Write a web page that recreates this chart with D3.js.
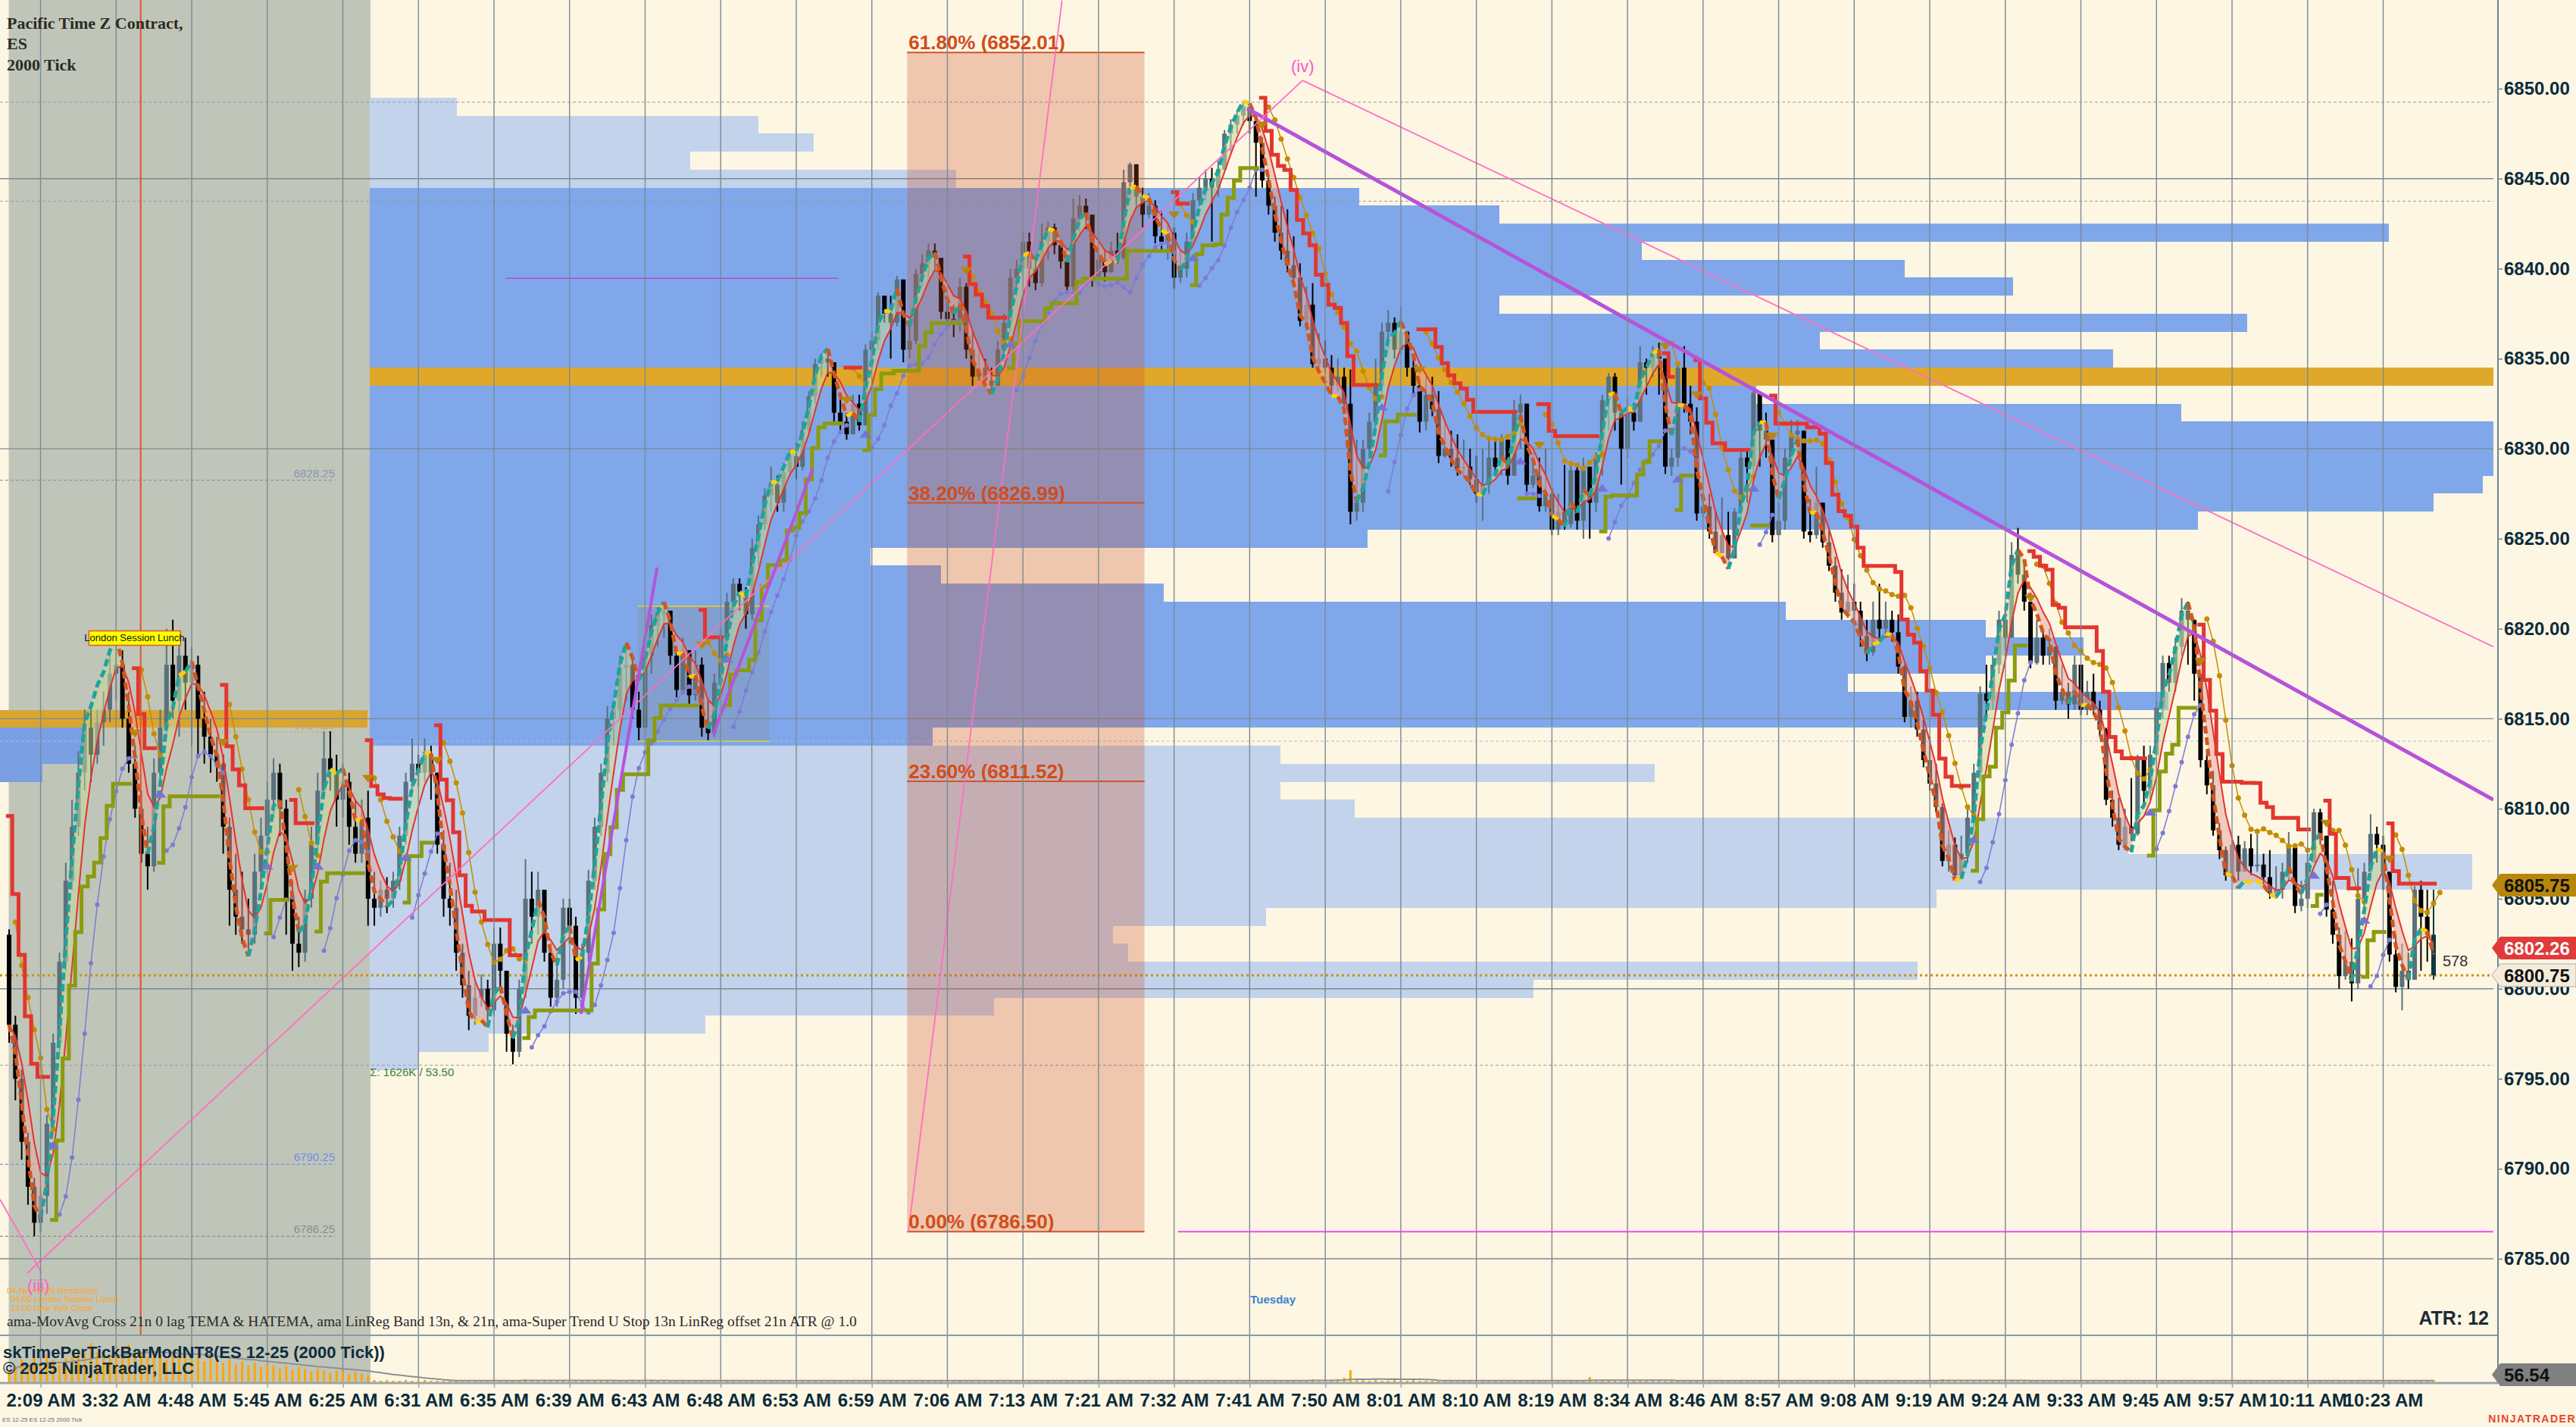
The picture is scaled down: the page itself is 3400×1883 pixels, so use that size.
<!DOCTYPE html>
<html><head><meta charset="utf-8">
<script src="https://cdn.jsdelivr.net/npm/d3@7"></script>
<style>html,body{margin:0;padding:0;background:#fdf6e3;}svg{display:block}</style>
</head><body>
<svg id="c" width="3400" height="1883"></svg>
<script>
// ---------------- DATA ----------------
const timeLabels = ["2:09 AM","3:32 AM","4:48 AM","5:45 AM","6:25 AM","6:31 AM","6:35 AM","6:39 AM","6:43 AM","6:48 AM","6:53 AM","6:59 AM","7:06 AM","7:13 AM","7:21 AM","7:32 AM","7:41 AM","7:50 AM","8:01 AM","8:10 AM","8:19 AM","8:34 AM","8:46 AM","8:57 AM","9:08 AM","9:19 AM","9:24 AM","9:33 AM","9:45 AM","9:57 AM","10:11 AM","10:23 AM"];
const labelFirstBar = 5, labelEveryBars = 12;
const firstOpen = 6803.0;
const closes = [
6798.0,6795.0,6791.5,6789.0,6787.0,6788.5,6792.5,6797.0,6801.5,6806.0,
6809.0,6812.0,6814.5,6813.0,6814.8,6815.5,6817.5,6818.0,6815.0,6812.5,
6810.0,6807.5,6806.8,6812.0,6814.5,6818.0,6816.0,6818.5,6817.0,6818.0,
6815.0,6814.0,6813.0,6812.5,6809.0,6805.5,6804.0,6803.3,6803.0,6806.5,
6808.5,6810.5,6812.0,6810.0,6805.0,6802.5,6802.0,6805.0,6808.0,6811.0,
6812.8,6812.0,6810.5,6811.5,6809.0,6807.5,6809.5,6805.0,6804.5,6805.5,
6805.0,6806.0,6808.5,6811.5,6812.5,6812.0,6813.0,6812.0,6808.0,6805.0,
6804.5,6802.0,6800.2,6798.5,6799.5,6800.0,6798.8,6802.5,6801.0,6797.5,
6796.5,6800.0,6805.0,6804.0,6805.5,6802.0,6799.5,6800.5,6804.5,6803.5,
6799.5,6802.0,6806.0,6809.0,6812.0,6815.0,6815.5,6817.8,6818.0,6815.5,
6814.5,6818.5,6820.2,6820.8,6821.0,6818.5,6816.6,6818.8,6816.3,6818.0,
6814.5,6814.2,6817.0,6819.5,6821.5,6822.5,6822.0,6820.8,6824.5,6825.8,
6827.4,6828.0,6827.0,6828.7,6829.6,6829.0,6831.0,6832.9,6834.7,6835.0,
6834.8,6832.0,6831.5,6830.8,6832.5,6831.3,6835.5,6836.0,6838.5,6837.5,
6837.0,6839.4,6835.5,6836.0,6839.7,6840.3,6841.0,6840.6,6837.6,6837.2,
6837.0,6839.0,6835.5,6834.0,6834.5,6833.8,6833.5,6835.5,6837.0,6839.5,
6840.0,6841.5,6840.0,6839.2,6841.5,6842.3,6841.3,6840.4,6839.0,6842.8,
6843.5,6843.0,6839.5,6840.5,6839.8,6841.0,6840.6,6844.8,6845.8,6844.0,
6843.0,6843.5,6841.8,6841.5,6842.0,6839.5,6840.0,6841.5,6843.8,6844.5,
6845.0,6844.5,6845.5,6847.5,6848.0,6848.5,6849.0,6848.2,6847.0,6844.9,
6843.5,6842.0,6841.0,6840.2,6839.5,6837.1,6838.0,6834.7,6835.0,6834.5,
6833.5,6834.0,6832.5,6826.5,6827.0,6830.0,6831.5,6833.5,6836.5,6837.0,
6835.5,6836.5,6834.5,6833.5,6831.5,6833.0,6832.2,6829.6,6830.0,6829.5,
6828.9,6829.0,6828.3,6827.5,6828.0,6829.5,6829.0,6830.5,6828.5,6832.0,
6832.5,6828.0,6828.5,6826.8,6827.5,6825.5,6826.5,6825.8,6828.8,6826.0,
6829.0,6827.0,6829.5,6832.7,6834.0,6832.0,6830.0,6832.0,6831.5,6834.8,
6834.5,6835.3,6835.0,6829.0,6829.5,6834.5,6832.5,6831.5,6826.4,6826.8,
6825.4,6824.2,6825.2,6823.9,6826.5,6829.5,6829.0,6833.1,6831.0,6830.5,
6825.2,6826.0,6829.5,6830.8,6831.0,6825.4,6825.2,6827.0,6824.8,6823.5,
6822.0,6820.9,6821.5,6821.0,6819.6,6818.7,6820.5,6820.0,6820.5,6819.8,
6817.9,6815.1,6816.0,6814.4,6812.7,6811.4,6810.1,6807.1,6808.0,6806.3,
6807.5,6809.5,6812.0,6816.4,6816.0,6818.0,6820.5,6819.5,6824.1,6823.0,
6821.5,6818.1,6819.5,6818.5,6819.0,6816.0,6816.5,6815.8,6818.0,6815.5,
6816.5,6815.5,6814.4,6810.5,6809.5,6808.0,6809.0,6808.6,6812.7,6811.0,
6813.0,6815.6,6818.1,6817.0,6819.0,6821.0,6820.5,6817.5,6812.7,6811.3,
6808.8,6807.7,6806.3,6808.0,6806.5,6807.8,6806.8,6806.9,6806.2,6805.3,
6805.5,6806.5,6808.0,6804.6,6805.0,6807.0,6809.8,6808.5,6804.4,6803.0,
6800.7,6801.5,6800.3,6805.0,6806.5,6808.6,6808.0,6806.5,6801.9,6800.1,
6801.0,6800.5,6805.5,6804.0,6803.0,6800.75];
const highs = [
6803.3,6798.5,6795.5,6792.0,6789.5,6789.0,6793.0,6797.5,6802.0,6807.0,
6810.5,6813.2,6815.5,6815.8,6815.5,6816.5,6818.5,6819.3,6818.8,6816.5,
6813.5,6811.0,6809.0,6812.8,6815.5,6820.0,6820.5,6819.5,6819.5,6819.0,
6818.5,6816.5,6815.0,6814.0,6813.0,6809.5,6807.5,6806.5,6805.0,6807.5,
6809.5,6811.5,6812.8,6812.5,6810.5,6806.0,6804.0,6805.5,6809.0,6812.0,
6814.3,6814.3,6813.0,6812.5,6812.0,6810.5,6810.5,6811.0,6806.5,6806.0,
6806.2,6806.5,6809.0,6812.0,6813.9,6813.0,6813.9,6813.5,6812.0,6808.8,
6807.0,6805.5,6802.5,6801.0,6800.5,6800.8,6800.5,6803.4,6803.4,6801.0,
6798.0,6800.5,6807.2,6806.5,6806.5,6805.5,6802.5,6802.0,6805.0,6805.0,
6804.0,6802.5,6806.6,6809.5,6812.5,6815.7,6816.0,6818.5,6818.8,6818.5,
6816.5,6818.8,6820.8,6821.2,6821.5,6821.0,6819.0,6819.5,6818.5,6818.8,
6818.4,6816.0,6817.5,6820.0,6822.0,6822.8,6822.8,6822.3,6825.0,6826.3,
6827.8,6829.0,6828.5,6829.2,6830.0,6830.3,6831.5,6833.2,6835.0,6835.3,
6835.3,6834.8,6833.0,6832.0,6833.0,6833.0,6835.8,6836.5,6838.7,6838.5,
6838.5,6839.6,6839.0,6837.0,6840.0,6840.8,6841.4,6841.4,6840.6,6838.5,
6838.0,6839.5,6839.2,6836.5,6835.5,6835.0,6834.5,6836.0,6837.5,6840.0,
6840.5,6842.0,6842.0,6840.5,6842.5,6842.6,6842.5,6841.5,6840.5,6843.9,
6844.1,6843.9,6843.0,6841.5,6841.0,6841.5,6842.0,6845.5,6845.9,6845.5,
6844.5,6844.2,6843.8,6843.2,6842.5,6842.3,6841.0,6842.0,6844.2,6845.1,
6845.5,6845.6,6846.0,6847.7,6848.3,6848.8,6849.3,6849.0,6848.5,6847.3,
6845.2,6844.0,6843.5,6843.3,6841.8,6840.3,6839.0,6839.2,6836.4,6836.0,
6835.2,6835.0,6834.5,6834.4,6830.5,6830.5,6832.0,6835.0,6837.0,6837.7,
6837.3,6837.9,6836.5,6835.0,6833.7,6834.0,6834.0,6833.2,6831.5,6831.0,
6830.8,6830.5,6830.0,6829.6,6830.0,6830.5,6830.5,6830.8,6830.5,6832.7,
6833.0,6832.5,6829.8,6829.5,6830.0,6827.8,6827.5,6829.1,6829.1,6829.0,
6829.5,6829.0,6829.8,6833.0,6834.2,6834.2,6832.0,6832.8,6832.5,6835.7,
6835.0,6835.7,6835.9,6835.0,6830.0,6834.8,6835.7,6833.5,6832.3,6828.5,
6827.5,6826.5,6827.3,6826.5,6826.7,6829.8,6830.0,6833.2,6832.8,6832.0,
6830.0,6827.0,6830.0,6831.6,6831.6,6830.0,6827.2,6829.0,6827.0,6825.5,
6824.0,6823.3,6823.0,6822.5,6821.5,6820.5,6821.5,6822.5,6821.5,6821.0,
6820.8,6818.0,6816.8,6816.5,6815.0,6814.0,6812.5,6810.3,6808.8,6808.4,
6808.5,6810.0,6812.5,6816.8,6818.0,6818.5,6821.0,6821.0,6824.8,6825.6,
6823.5,6821.0,6820.5,6820.0,6820.0,6818.3,6818.0,6817.0,6818.5,6818.0,
6817.1,6817.5,6816.0,6814.5,6811.0,6810.6,6810.0,6811.7,6813.0,6813.5,
6813.5,6816.0,6818.5,6818.5,6819.5,6821.7,6821.5,6820.5,6817.5,6813.3,
6812.1,6809.2,6807.9,6808.5,6808.5,6808.2,6808.6,6808.6,6807.5,6807.7,
6806.8,6807.0,6808.7,6808.0,6806.0,6807.5,6810.0,6810.0,6808.5,6806.0,
6803.4,6803.2,6802.8,6806.7,6807.0,6809.7,6809.0,6808.5,6806.5,6803.0,
6802.5,6802.0,6805.7,6806.0,6805.5,6805.5];
const lows = [
6797.0,6793.8,6790.5,6788.0,6786.25,6786.5,6787.5,6792.0,6796.5,6801.0,
6805.5,6808.5,6811.0,6811.5,6812.5,6813.5,6814.8,6816.0,6814.5,6812.0,
6809.5,6807.0,6805.5,6806.5,6811.5,6814.0,6815.0,6814.0,6815.5,6813.5,
6813.0,6812.5,6812.0,6811.5,6807.5,6803.5,6803.0,6802.5,6802.2,6802.5,
6805.5,6807.5,6809.5,6808.5,6803.0,6801.0,6801.2,6801.5,6804.5,6807.5,
6810.5,6811.0,6809.0,6809.5,6808.0,6807.0,6807.0,6803.5,6803.5,6804.0,
6804.2,6804.5,6805.5,6808.0,6811.0,6811.2,6811.5,6810.5,6807.5,6804.0,
6803.5,6801.0,6799.5,6797.7,6798.0,6799.0,6798.0,6798.5,6800.0,6796.5,
6795.8,6796.2,6799.5,6802.5,6803.0,6801.5,6799.0,6799.0,6800.0,6802.5,
6798.6,6799.0,6801.5,6805.5,6808.5,6811.5,6813.5,6815.0,6816.0,6815.0,
6813.8,6814.5,6817.5,6819.0,6819.5,6818.0,6816.2,6816.5,6815.8,6816.0,
6814.0,6813.8,6814.0,6816.5,6819.0,6821.0,6821.0,6820.0,6820.5,6823.5,
6825.5,6826.5,6826.5,6826.5,6828.5,6828.3,6828.8,6830.8,6832.5,6834.0,
6834.0,6831.5,6831.0,6830.5,6830.8,6831.0,6831.5,6834.5,6835.5,6837.0,
6835.0,6836.8,6834.8,6835.0,6835.8,6839.0,6839.5,6840.0,6837.2,6836.8,
6836.2,6836.5,6835.0,6833.5,6833.8,6833.5,6833.2,6833.5,6835.0,6836.5,
6838.5,6839.5,6839.0,6838.8,6839.0,6840.5,6840.8,6840.0,6838.8,6838.8,
6842.0,6842.2,6839.0,6839.2,6839.3,6839.8,6840.3,6840.5,6843.8,6843.5,
6842.3,6842.8,6841.4,6841.0,6840.5,6838.9,6839.2,6839.5,6841.3,6843.5,
6843.8,6841.5,6844.0,6845.5,6846.5,6847.5,6848.0,6847.5,6844.0,6844.5,
6843.0,6841.5,6840.5,6839.8,6839.0,6836.8,6836.9,6834.5,6834.5,6834.2,
6833.0,6833.2,6832.0,6825.8,6826.0,6826.5,6829.5,6831.0,6833.0,6835.5,
6835.0,6835.3,6834.0,6833.0,6830.9,6831.0,6831.8,6829.2,6829.5,6829.0,
6828.5,6828.5,6828.0,6827.0,6826.0,6827.5,6828.5,6828.5,6828.0,6828.5,
6830.0,6827.5,6827.8,6826.5,6826.5,6825.2,6825.2,6825.5,6825.6,6825.5,
6825.0,6825.0,6826.5,6828.5,6831.0,6831.0,6828.0,6829.5,6831.0,6831.5,
6833.0,6834.0,6833.0,6828.6,6828.5,6829.0,6832.0,6830.8,6826.0,6826.2,
6825.0,6824.2,6824.8,6823.8,6823.9,6826.0,6827.0,6828.5,6829.0,6829.5,
6824.8,6825.5,6825.5,6829.0,6829.5,6825.0,6824.8,6825.0,6824.5,6823.2,
6821.5,6820.5,6820.6,6820.2,6819.0,6818.2,6818.5,6819.5,6819.5,6819.3,
6817.5,6814.8,6814.5,6814.0,6812.3,6811.0,6809.8,6806.8,6806.5,6806.1,
6806.2,6807.0,6809.0,6811.5,6815.0,6815.5,6817.5,6818.8,6819.5,6822.5,
6821.0,6817.8,6818.0,6818.0,6818.0,6815.5,6815.8,6815.0,6815.5,6815.2,
6815.2,6815.2,6814.0,6810.2,6809.0,6807.7,6807.7,6808.2,6808.5,6810.0,
6810.5,6813.0,6815.0,6816.5,6816.5,6818.5,6818.0,6816.0,6812.3,6810.8,
6808.5,6807.2,6806.0,6806.0,6806.0,6806.5,6806.3,6806.5,6805.8,6805.0,
6805.0,6805.0,6806.0,6804.2,6804.3,6804.5,6807.0,6808.0,6804.0,6802.5,
6800.0,6800.5,6799.3,6800.0,6804.5,6806.0,6807.0,6805.5,6801.5,6799.8,
6798.8,6800.0,6800.5,6801.0,6801.5,6800.5];
const tickVolume = [
14,22,30,20,32,26,36,30,24,32,34,42,38,52,40,36,32,44,38,50,42,38,34,40,36,30,38,32,36,30,34,28,32,30,26,30,24,28,22,26,20,24,22,18,22,16,20,18,14,18,16,12,16,14,10,14,12,9,
3,2,3,2,2,3,2,2,3,2,2,2,3,2,2,2,3,3,2,2,3,2,2,3,4,3,2,2,3,2,2,3,2,3,3,2,2,3,2,2,2,3,
2,3,2,2,3,2,2,2,3,2,2,3,2,2,2,3,2,2,3,2,2,2,2,3,2,2,3,2,2,2,3,2,2,2,3,2,2,2,2,3,2,2,2,3,2,2,2,2,3,2,
2,2,3,2,2,2,3,2,2,2,2,3,2,2,2,2,3,2,2,2,3,2,2,2,2,3,2,2,3,2,2,2,2,3,2,2,2,3,2,2,2,2,3,2,2,2,3,2,2,3,
2,3,2,2,2,3,2,4,3,2,3,4,6,16,5,3,2,3,2,2,3,2,2,3,2,2,2,3,2,2,3,2,2,2,3,2,2,3,2,2,2,3,2,2,2,3,2,2,3,2,
2,7,3,2,2,3,2,2,3,2,2,2,3,2,2,3,2,2,2,3,2,2,3,2,2,2,3,2,2,3,2,2,2,3,2,2,2,3,2,2,3,2,2,2,3,2,2,3,2,2,
3,2,2,3,2,2,3,4,3,2,2,3,2,2,3,2,2,2,3,2,2,3,2,2,2,3,2,2,3,2,2,2,3,2,2,3,2,2,3,2,2,2,3,2,2,3,2,2,2,3,
2,2,3,2,2,3,2,2,2,3,2,2,3,2,2,2,3,2,2,3,2,2,3,2,2,2,3,2,2,3,2,2,3,2,2,3];
const profilePrices  = [6849,6848,6847,6846,6845,6844,6843,6842,6841,6840,6839,6838,6837,6836,6835,6834,6833,6832,6831,6830,6829,6828,6827,6826,6825,6824,6823,6822,6821,6820,6819,6818,6817,6816,6815,6814,6813,6812,6811,6810,6809,6808,6807,6806,6805,6804,6803,6802,6801,6800,6799,6798,6797,6796];
const profileVolumes = [4.1,18.3,20.9,15.1,27.6,46.6,53.2,95.1,59.9,72.3,77.4,53.2,88.4,68.3,82.1,102,65.3,85.3,101,101,101,99.5,97.2,86.1,47.0,23.6,26.9,37.4,66.7,76.1,80.7,76.1,69.6,84.7,76.1,26.5,42.9,60.5,42.9,46.4,82.8,82.8,99.0,99.0,73.8,42.2,35.0,35.7,72.9,54.8,29.4,15.8,5.6,2.3];
const valueAreaHigh = 6844, valueAreaLow = 6814, pocPrice = 6834;
const priorProfilePrices  = [6815, 6814, 6813, 6812];
const priorProfileVolumes = [17.3, 3.9, 3.9, 2.0];
const priorPocPrice = 6815;
const fibPercents = ["61.80%","38.20%","23.60%","0.00%"];
const fibPrices   = [6852.01, 6826.99, 6811.52, 6786.50];
const fibBars = [142.6, 180.3];
const axisPrices = [6785,6790,6795,6800,6805,6810,6815,6820,6825,6830,6835,6840,6845,6850];
const solidGridPrices  = [6845, 6830, 6815, 6800, 6785];
const dashedLevelPrices = [6849.25, 6843.75, 6813.75, 6795.75];
const sessionBars = [-0.06, 57.4];
const profileStartBar = 57.3;
const lunchBar = 20.9;
const leftLevelPrices = [6828.25, 6814.25, 6790.25, 6786.25];
const rangeBox = {bars:[99.9, 120.7], prices:[6821.25, 6813.75]};
const lastPrice = 6800.75, markerHigh = 6805.75, markerValue = 6802.26;
const volumeMarker = 56.54, atrValue = 12, barTicksLeft = 578;
// drawn trend lines: [bar, price] -> [bar, price]
const trendLines = [
  {from:[196.6,6848.9], to:[394.5,6810.5], kind:"main"},
  {from:[205.4,6850.46], to:[394.5,6819.0], kind:"thin"},
  {from:[2.9,6784.2], to:[205.4,6850.46], kind:"thin"},
  {from:[-1.44,6788.3], to:[5.2,6784.2], kind:"thin"},
  {from:[142.8,6786.5], to:[167.2,6854.9], kind:"thin"},
  {from:[90.8,6798.6], to:[102.9,6823.4], kind:"short"},
  {from:[111.8,6814.1], to:[127.6,6828.9], kind:"short"}
];
const magentaLine = {price:6786.5, fromBar:185.6};
const purpleLevel = {price:6839.47, bars:[78.9,131.6]};

// ---------------- SETUP ----------------
const svg = d3.select('#c');
const PR = 3291, PB = 1762, AXY = 1825, AXX = 3297;
const x = d3.scaleLinear().domain([0,385]).range([12,3212]);
const y = d3.scaleLinear().domain([6785,6850]).range([1661,117]);
const xv = d3.scaleLinear().domain([0,100]).range([x(profileStartBar), PR]);
const xvPrior = d3.scaleLinear().domain([0,100]).range([0, PR - x(profileStartBar)]);
const SANS = "'Liberation Sans', Arial, sans-serif", SERIF = "'Liberation Serif', 'Times New Roman', serif";
const rowTop = p => Math.round(y(p+0.5)), rowHt = p => Math.round(y(p-0.5)) - Math.round(y(p+0.5));

const defs = svg.append('defs');
defs.append('clipPath').attr('id','plot').append('rect').attr('x',0).attr('y',0).attr('width',PR).attr('height',PB);

svg.append('rect').attr('width',3400).attr('height',1883).attr('fill','#fdf6e3');
svg.append('rect').attr('x',x(sessionBars[0])).attr('y',0).attr('width',x(sessionBars[1])-x(sessionBars[0])).attr('height',AXY).attr('fill','#c0c5b9');

const plot = svg.append('g').attr('clip-path','url(#plot)');

// prior profile
plot.append('g').attr('shape-rendering','crispEdges').selectAll('rect').data(priorProfilePrices).join('rect')
  .attr('x',0).attr('y',rowTop).attr('height',rowHt)
  .attr('width',(p,i)=>Math.round(xvPrior(priorProfileVolumes[i])))
  .attr('fill',p=>p===priorPocPrice?'#d9a530':'#7a9fe2');
// main profile
plot.append('g').attr('shape-rendering','crispEdges').selectAll('rect').data(profilePrices).join('rect')
  .attr('x',Math.round(xv(0))).attr('y',rowTop).attr('height',rowHt)
  .attr('width',(p,i)=>Math.round(xv(profileVolumes[i])-xv(0)))
  .attr('fill',p=>p===pocPrice?'#dfa82a':(p>=valueAreaLow&&p<=valueAreaHigh?'#80a7ea':'#c3d3eb'));

// range box
plot.append('rect').attr('x',x(rangeBox.bars[0])).attr('width',x(rangeBox.bars[1])-x(rangeBox.bars[0]))
  .attr('y',y(rangeBox.prices[0])).attr('height',y(rangeBox.prices[1])-y(rangeBox.prices[0]))
  .attr('fill','#8c8f96').attr('opacity',0.3);
rangeBox.prices.forEach(p=>plot.append('line').attr('x1',x(rangeBox.bars[0])).attr('x2',x(rangeBox.bars[1])).attr('y1',y(p)).attr('y2',y(p)).attr('stroke','#f2d200').attr('stroke-width',1.5));

// grid
const tickBars = timeLabels.map((d,k)=>labelFirstBar+k*labelEveryBars);
svg.selectAll('line.vg').data(tickBars).join('line').attr('x1',d=>x(d)).attr('x2',d=>x(d)).attr('y1',0).attr('y2',AXY)
  .attr('stroke','#7a8a95').attr('stroke-width',1.4);
plot.selectAll('line.hg').data(solidGridPrices).join('line').attr('x1',0).attr('x2',PR).attr('y1',d=>y(d)).attr('y2',d=>y(d))
  .attr('stroke','#7a8a95').attr('stroke-width',1.4);
plot.selectAll('line.dl').data(dashedLevelPrices).join('line').attr('x1',0).attr('x2',PR).attr('y1',d=>y(d)).attr('y2',d=>y(d))
  .attr('stroke',(d,i)=>i===2?'#a8bde0':'#9a9a9a').attr('stroke-width',1).attr('stroke-dasharray','4,3');

// left small levels
const leftColors = ['#8896b0','#c9a45a','#6f8fe8','#8c8c8c'];
leftLevelPrices.forEach((p,i)=>{
  plot.append('line').attr('x1',i===1?243:0).attr('x2',442).attr('y1',y(p)).attr('y2',y(p))
    .attr('stroke',leftColors[i]).attr('stroke-width',1.2).attr('stroke-dasharray',i===1?'2,3':'4,3');
  plot.append('text').attr('x',442).attr('y',y(p)-4).attr('text-anchor','end').attr('font-family',SANS).attr('font-size',15)
    .attr('fill',leftColors[i]).text(p.toFixed(2));
});

// red vertical line (session event)
svg.append('line').attr('x1',x(lunchBar)).attr('x2',x(lunchBar)).attr('y1',0).attr('y2',PB).attr('stroke','#e0532a').attr('stroke-width',2);

// last price dotted line
plot.append('line').attr('x1',0).attr('x2',PR).attr('y1',y(lastPrice)).attr('y2',y(lastPrice))
  .attr('stroke','#c8940a').attr('stroke-width',3).attr('stroke-dasharray','3,4');

// candles
const opens = closes.map((c,i)=>i===0?firstOpen:closes[i-1]);
const cg = plot.append('g');
closes.forEach((c,i)=>{
  const o = opens[i], h = Math.max(highs[i],o,c), l = Math.min(lows[i],o,c);
  const up = c>o, col = i===closes.length-1?'#0b3942':(up?'#58717c':'#000');
  cg.append('line').attr('x1',x(i)).attr('x2',x(i)).attr('y1',y(h)).attr('y2',y(l)).attr('stroke',col).attr('stroke-width',2);
  const top = y(Math.max(o,c)), bot = y(Math.min(o,c));
  cg.append('rect').attr('x',x(i)-3).attr('width',6).attr('y',top).attr('height',Math.max(1.5,bot-top)).attr('fill',col);
});

// fib overlay
plot.append('rect').attr('x',x(fibBars[0])).attr('width',x(fibBars[1])-x(fibBars[0]))
  .attr('y',y(fibPrices[0])).attr('height',y(fibPrices[3])-y(fibPrices[0])).attr('fill','rgb(206,80,36)').attr('opacity',0.28);
fibPrices.forEach((p,i)=>{
  plot.append('line').attr('x1',x(fibBars[0])).attr('x2',x(fibBars[1])).attr('y1',y(p)).attr('y2',y(p)).attr('stroke','#d0532a').attr('stroke-width',2);
  svg.append('text').attr('x',x(fibBars[0])+2).attr('y',y(p)-4).attr('font-family',SANS).attr('font-weight','bold').attr('font-size',26)
    .attr('fill','#d04d1c').text(`${fibPercents[i]} (${p.toFixed(2)})`);
});

// ---------------- INDICATORS (derived from the candles) ----------------
function ema(a,n){const k=2/(n+1);const o=[];a.forEach((v,i)=>o.push(i?o[i-1]+k*(v-o[i-1]):v));return o;}
function sma(a,n){return a.map((v,i)=>{const s=a.slice(Math.max(0,i-n+1),i+1);return d3.mean(s);});}
const e1=ema(closes,8),e2=ema(e1,8),e3=ema(e2,8);
const tema=e1.map((v,i)=>3*v-3*e2[i]+e3[i]);
const hatema=ema(tema,4);
const tr=closes.map((c,i)=>i?Math.max(highs[i]-lows[i],Math.abs(highs[i]-closes[i-1]),Math.abs(lows[i]-closes[i-1])):highs[i]-lows[i]);
const atr=ema(tr,13);
const mult=1.5;
const trend=[],fu=[],fl=[],st=[];
closes.forEach((c,i)=>{
  const hl2=(highs[i]+lows[i])/2, up=hl2+mult*atr[i], dn=hl2-mult*atr[i];
  if(i===0){fu[i]=up;fl[i]=dn;trend[i]=-1;}
  else{
    fu[i]=(up<fu[i-1]||closes[i-1]>fu[i-1])?up:fu[i-1];
    fl[i]=(dn>fl[i-1]||closes[i-1]<fl[i-1])?dn:fl[i-1];
    let t=trend[i-1];
    if(t===-1&&c>fu[i])t=1;else if(t===1&&c<fl[i])t=-1;
    trend[i]=t;
  }
  st[i]=trend[i]===1?fl[i]:fu[i];
});
const ig = plot.append('g');
for(let i=1;i<closes.length;i++){
  const pts=[[x(i-1),y(tema[i-1])],[x(i),y(tema[i])],[x(i),y(hatema[i])],[x(i-1),y(hatema[i-1])]];
  ig.append('polygon').attr('points',pts.map(p=>p.join(',')).join(' '))
    .attr('fill',tema[i]>=hatema[i]?'#c9d99a':'#e7a8a0').attr('opacity',0.55);
}
const hiBand=sma(highs,5), loBand=sma(lows,6);
function runs(pred){const r=[];let cur=null;closes.forEach((c,i)=>{if(pred(i)){if(!cur){cur=[];r.push(cur);}cur.push(i);}else cur=null;});return r;}
const lineGen=d3.line().x(d=>x(d[0])).y(d=>y(d[1]));
runs(i=>trend[i]===-1).forEach(r=>{
  const pts=r.map(i=>[i+1,hiBand[i]+0.4]);
  ig.append('path').attr('d',lineGen(pts)).attr('fill','none').attr('stroke','#c38d00').attr('stroke-width',1.5);
  pts.forEach(p=>ig.append('circle').attr('cx',x(p[0])).attr('cy',y(p[1])).attr('r',3.5).attr('fill','#c38d00'));
});
runs(i=>trend[i]===1).forEach(r=>{
  const pts=r.map(i=>[i+1,loBand[i]-1.0]);
  ig.append('path').attr('d',lineGen(pts)).attr('fill','none').attr('stroke','#7b7bd6').attr('stroke-width',1.5);
  pts.forEach(p=>ig.append('circle').attr('cx',x(p[0])).attr('cy',y(p[1])).attr('r',3).attr('fill','#7b7bd6'));
});
ig.append('path').attr('d',d3.line().x((d,i)=>x(i)).y(d=>y(d))(hatema)).attr('fill','none').attr('stroke','#e3342f').attr('stroke-width',2);
[[-1,'#e2362f'],[1,'#8a9b0f']].forEach(([t,col])=>{
  runs(i=>trend[i]===t).forEach(r=>{
    let d=`M${x(r[0]-0.5)},${y(st[r[0]])}H${x(r[0]+0.5)}`;
    for(let k=1;k<r.length;k++){const i=r[k];d+=`V${y(st[i])}H${x(i+0.5)}`;}
    ig.append('path').attr('d',d).attr('fill','none').attr('stroke',col).attr('stroke-width',5);
  });
});
const slopeCls=tema.map((v,i)=>i===0?0:(v-tema[i-1]>0.25?1:(v-tema[i-1]<-0.25?-1:0)));
const temaCols={'1':'#1fa39a','-1':'#d2561e','0':'#ffd000'};
let segStart=0;
for(let i=1;i<=closes.length;i++){
  if(i===closes.length||slopeCls[i]!==slopeCls[segStart+1]||i===segStart){
    if(i>segStart+1||i===closes.length){
      const pts=d3.range(segStart,Math.min(i,closes.length)).map(j=>[j,tema[j]]);
      if(pts.length>1) ig.append('path').attr('d',lineGen(pts)).attr('fill','none').attr('stroke',temaCols[slopeCls[segStart+1]])
        .attr('stroke-width',5).attr('stroke-dasharray','10,5');
    }
    segStart=i-1;
  }
}
for(let i=1;i<closes.length;i++){
  if(trend[i]!==trend[i-1]){
    const cx=x(i);
    if(trend[i]===-1){const cy=y(highs[i])-16;
      ig.append('path').attr('d',`M${cx-8},${cy-5}L${cx+8},${cy-5}L${cx},${cy+5}Z`).attr('fill','#b8860b');}
    else{const cy=y(lows[i])+16;
      ig.append('path').attr('d',`M${cx-8},${cy+5}L${cx+8},${cy+5}L${cx},${cy-5}Z`).attr('fill','#7474d4');}
  }
}

// drawn lines
trendLines.forEach(t=>{
  plot.append('line').attr('x1',x(t.from[0])).attr('y1',y(t.from[1])).attr('x2',x(t.to[0])).attr('y2',y(t.to[1]))
    .attr('stroke',t.kind==='thin'?'#ff6ec0':'#b653d9').attr('stroke-width',t.kind==='main'?5:(t.kind==='short'?4:1.8));
});
plot.append('line').attr('x1',x(magentaLine.fromBar)).attr('x2',PR).attr('y1',y(magentaLine.price)).attr('y2',y(magentaLine.price))
  .attr('stroke','#ff3cff').attr('stroke-width',2);
plot.append('line').attr('x1',x(purpleLevel.bars[0])).attr('x2',x(purpleLevel.bars[1])).attr('y1',y(purpleLevel.price)).attr('y2',y(purpleLevel.price))
  .attr('stroke','#b347dd').attr('stroke-width',1.5);

// ---------------- TEXTS ----------------
const T=(xx,yy,txt,o={})=>svg.append('text').attr('x',xx).attr('y',yy).attr('font-family',o.ff||SANS).attr('font-size',o.fs||16)
  .attr('font-weight',o.fw||'normal').attr('fill',o.fill||'#222').attr('text-anchor',o.anchor||'start').attr('letter-spacing',o.ls||0).text(txt);
T(9,38,'Pacific Time Z Contract,',{ff:SERIF,fs:22,fw:'bold',fill:'#2b2b22'});
T(9,65,'ES',{ff:SERIF,fs:22,fw:'bold',fill:'#2b2b22'});
T(9,93,'2000 Tick',{ff:SERIF,fs:22,fw:'bold',fill:'#2b2b22'});
const lbx=x(19.9), lby=y(6819.5);
svg.append('rect').attr('x',lbx-60).attr('y',lby-9).attr('width',121).attr('height',19).attr('fill','#ffff00').attr('stroke','#e05a1e').attr('stroke-width',1.5);
T(lbx,lby+5,'London Session Lunch',{fs:13,anchor:'middle',fill:'#111'});
T(x(205.4),y(6851.2)+7,'(iv)',{fs:22,fill:'#ff55c8',anchor:'middle'});
T(9,1707,'04-Nov-2025 Reminders:',{fs:11,fill:'#ffa41c'});
T(14,1718,'04:00 London Session Lunch',{fs:11,fill:'#ffa41c'});
T(14,1730,'13:00 New York Close',{fs:11,fill:'#ffa41c'});
T(36,1704,'(iii)',{fs:22,fill:'#ff5fc8'});
T(9,1750,'ama-MovAvg Cross 21n 0 lag TEMA & HATEMA, ama LinReg Band 13n, & 21n, ama-Super Trend U Stop 13n LinReg offset 21n ATR @ 1.0',{ff:SERIF,fs:19.5,fill:'#2a2a2a'});
T(x(200.7),1720,'Tuesday',{fs:15,fw:'bold',fill:'#3a82d2',anchor:'middle'});
T(3285,1748,`ATR: ${atrValue}`,{fs:25,fw:'bold',fill:'#1b2b36',anchor:'end'});
T(3224,1275,String(barTicksLeft),{fs:20,fill:'#333'});
T(x(profileStartBar),1420,'Σ: 1626K / 53.50',{fs:15,fill:'#3f7f3f'});

// ---------------- VOLUME PANEL ----------------
const yv=d3.scaleLinear().domain([0,56]).range([1824,1768]);
svg.append('line').attr('x1',0).attr('x2',AXX).attr('y1',PB).attr('y2',PB).attr('stroke','#8b9aa3').attr('stroke-width',2);
svg.selectAll('rect.vb').data(tickVolume).join('rect').attr('x',(d,i)=>x(i)-1.5).attr('width',3)
  .attr('y',d=>yv(d)).attr('height',d=>yv(0)-yv(d)).attr('fill','#ffa500');
const volAvg=sma(tickVolume,14);
svg.append('path').attr('d',d3.line().x((d,i)=>x(i)).y(d=>yv(d))(volAvg)).attr('fill','none').attr('stroke','#8f8f8f').attr('stroke-width',2);
T(4,1792,'skTimePerTickBarModNT8(ES 12-25 (2000 Tick))',{fs:22,fw:'bold',fill:'#0d2d3d'});
T(4,1813,'© 2025 NinjaTrader, LLC',{fs:22,fw:'bold',fill:'#0d2d3d'});

// ---------------- AXES ----------------
svg.append('line').attr('x1',AXX).attr('x2',AXX).attr('y1',0).attr('y2',AXY).attr('stroke','#6f8591').attr('stroke-width',2);
svg.append('line').attr('x1',0).attr('x2',AXX).attr('y1',AXY).attr('y2',AXY).attr('stroke','#9aa6ad').attr('stroke-width',3);
const yAxis=d3.axisRight(y).tickValues(axisPrices).tickFormat(d3.format('.2f')).tickSize(6).tickPadding(2);
const ya=svg.append('g').attr('transform',`translate(${AXX},0)`).call(yAxis);
ya.select('.domain').remove();
ya.selectAll('line').attr('stroke','#6f8591').attr('stroke-width',1.5);
ya.selectAll('text').attr('font-family',SANS).attr('font-weight','bold').attr('font-size',24).attr('fill','#0b2b3b');
const xAxis=d3.axisBottom(x).tickValues(tickBars).tickFormat((d,k)=>timeLabels[k]).tickSize(6).tickPadding(8);
const xa=svg.append('g').attr('transform',`translate(0,${AXY})`).call(xAxis);
xa.select('.domain').remove();
xa.selectAll('line').attr('stroke','#9aa6ad').attr('stroke-width',1.5);
xa.selectAll('text').attr('font-family',SANS).attr('font-weight','bold').attr('font-size',24).attr('fill','#0b2b3b');

function marker(yc,val,fill,txtCol,stroke){
  svg.append('path').attr('d',`M3289,${yc}L3300,${yc-15}H3400V${yc+15}H3300Z`).attr('fill',fill).attr('stroke',stroke||'none');
  T(3305,yc+9,val,{fs:24,fw:'bold',fill:txtCol});
}
marker(y(markerHigh),markerHigh.toFixed(2),'#b8860b','#111');
marker(y(markerValue),markerValue.toFixed(2),'#e03a3a','#fff');
marker(y(lastPrice),lastPrice.toFixed(2),'#f3ecd9','#111','#aaa');
marker(1814,volumeMarker.toFixed(2),'#808080','#111');
T(3400,1877,'NINJATRADER',{fs:14,fw:'bold',fill:'#e8452a',anchor:'end',ls:1.5});
T(3,1876,'ES 12-25 ES 12-25 2000 Tick',{fs:8,fill:'#667'});
</script>
</body></html>
